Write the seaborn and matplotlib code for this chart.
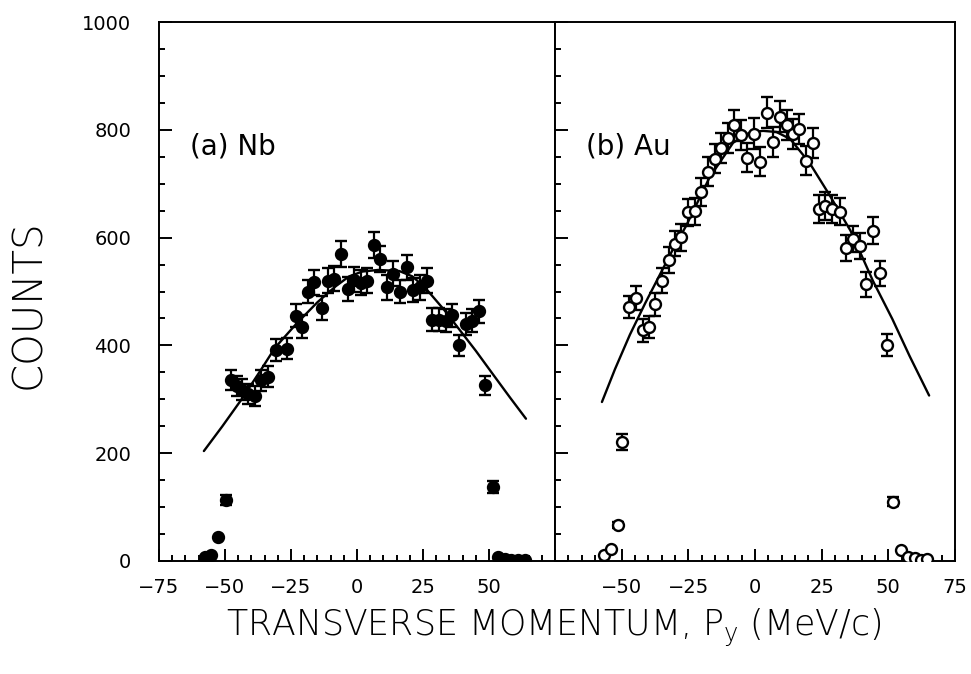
import numpy as np
import pandas as pd
import matplotlib
matplotlib.use("Agg")
import matplotlib.pyplot as plt
import seaborn as sns
from matplotlib.ticker import MultipleLocator, FixedLocator

# ---------------- data ----------------
nb_x = [-57.7, -55.3, -52.5, -49.8, -47.8, -45.6, -43.5, -41.2, -38.8, -36.5,
        -33.8, -30.5, -26.5, -23.0, -21.0, -18.5, -16.2, -13.3, -11.0, -8.7,
        -6.0, -3.5, -1.0, 1.5, 3.8, 6.3, 8.8, 11.3, 13.8, 16.3,
        18.9, 21.4, 23.9, 26.4, 28.5, 31.0, 33.6, 36.0, 38.6, 41.1,
        43.6, 46.1, 48.6, 51.4, 53.5, 56.0, 58.5, 61.0, 63.5]
nb_y = [8, 12, 44, 113, 336, 325, 318, 310, 306, 335,
        342, 391, 394, 455, 435, 500, 517, 470, 520, 524,
        570, 505, 522, 516, 520, 587, 560, 508, 533, 500,
        545, 503, 508, 520, 448, 448, 446, 456, 400, 440,
        446, 463, 326, 138, 8, 3, 1, 1, 1]
nb_err = [0, 0, 0, 10, 19, 19, 19, 18, 18, 19,
          19, 20, 20, 21, 21, 22, 23, 22, 23, 23,
          24, 22, 23, 23, 23, 24, 24, 23, 23, 22,
          23, 22, 23, 23, 21, 21, 21, 21, 20, 21,
          21, 21, 18, 11, 0, 0, 0, 0, 0]

nb_fit_x = [-58, -51, -44, -37, -31, -23, -15, -8, -3, 2, 8, 16, 21, 26, 33, 39, 45, 52, 58, 64]
nb_fit_y = [204, 250, 298, 350, 396, 440, 480, 510, 528, 537, 540, 538, 528, 506, 466, 428, 390, 343, 303, 264]

au_x = [-56.6, -54.0, -51.5, -49.8, -47.1, -44.7, -42.0, -39.7, -37.4, -34.7,
        -32.4, -30.1, -27.6, -25.0, -22.6, -20.1, -17.7, -15.1, -12.7, -10.2,
        -7.9, -5.2, -2.9, -0.5, 2.0, 4.4, 6.9, 9.4, 11.9, 14.4,
        16.6, 19.1, 21.6, 24.1, 26.4, 28.9, 31.7, 34.2, 36.7, 39.5,
        41.7, 44.2, 46.8, 49.6, 51.8, 54.6, 57.4, 60.0, 62.2, 64.4]
au_y = [11, 23, 67, 221, 471, 488, 428, 434, 476, 520,
        559, 589, 601, 647, 649, 684, 722, 746, 766, 785,
        808, 790, 748, 793, 741, 832, 778, 824, 809, 792,
        801, 743, 775, 653, 659, 653, 648, 580, 598, 584,
        513, 613, 534, 401, 110, 20, 8, 5, 2, 3]
au_err = [0, 0, 6, 15, 21, 22, 21, 21, 22, 23,
          24, 24, 25, 25, 25, 26, 27, 27, 28, 28,
          28, 28, 27, 28, 27, 29, 28, 29, 28, 28,
          28, 27, 28, 26, 26, 26, 25, 24, 24, 24,
          23, 25, 23, 20, 8, 0, 0, 0, 0, 0]

au_fit_x = [-57.4, -52.5, -46.9, -41.2, -35.8, -30.8, -25.8, -17.0, -8.2, -2.0, 3.0, 8.0, 13.2, 20.4, 27.7, 35.8, 44.2, 51.5, 58.0, 65.3]
au_fit_y = [295, 356, 420, 478, 530, 578, 622, 712, 776, 795, 798, 796, 783, 739, 681, 613, 520, 449, 380, 307]

x_ticks = [-75, -50, -25, 0, 25, 50, 75]
left_labels = ["\u221275", "\u221250", "\u221225", "0", "25", "50", ""]
right_labels = ["", "\u221250", "\u221225", "0", "25", "50", "75"]
y_ticks = [0, 200, 400, 600, 800, 1000]

# ---------------- figure ----------------
sns.set_theme(style="ticks")
plt.rcParams['font.family'] = ['DejaVu Sans']
plt.rcParams['axes.linewidth'] = 1.4
for k in ["text.color", "xtick.color", "ytick.color", "axes.labelcolor", "axes.edgecolor"]:
    plt.rcParams[k] = "black"

W, H = 971, 674
fig = plt.figure(figsize=(W / 100, H / 100), dpi=100)
L, Bt, Tp = 159 / W, 1 - 561 / H, 1 - 22 / H
M, R = 555 / W, 955 / W
ax1 = fig.add_axes([L, Bt, M - L, Tp - Bt])
ax2 = fig.add_axes([M, Bt, R - M, Tp - Bt])

nb = pd.DataFrame({"x": nb_x, "y": nb_y, "err": nb_err})
au = pd.DataFrame({"x": au_x, "y": au_y, "err": au_err})
nbf = pd.DataFrame({"x": nb_fit_x, "y": nb_fit_y})
auf = pd.DataFrame({"x": au_fit_x, "y": au_fit_y})

for ax, df, fit, filled, labels, title in [
        (ax1, nb, nbf, True, left_labels, "(a) Nb"),
        (ax2, au, auf, False, right_labels, "(b) Au")]:
    sns.lineplot(data=fit, x="x", y="y", ax=ax, color="black", lw=1.7,
                 sort=False, estimator=None, zorder=2)
    e = df[df["err"] > 0]
    ax.errorbar(e["x"], e["y"], yerr=e["err"], fmt="none", ecolor="black",
                elinewidth=1.6, capsize=4.6, capthick=1.7, zorder=3)
    sns.scatterplot(data=df, x="x", y="y", ax=ax, s=62, marker="o",
                    color="black" if filled else "white",
                    edgecolor="black", linewidth=1.7, zorder=4)
    ax.set_xlim(-75, 75)
    ax.set_ylim(0, 1000)
    ax.xaxis.set_major_locator(FixedLocator(x_ticks))
    ax.set_xticklabels(labels)
    ax.xaxis.set_minor_locator(MultipleLocator(5))
    ax.yaxis.set_major_locator(FixedLocator(y_ticks))
    ax.yaxis.set_minor_locator(MultipleLocator(50))
    ax.tick_params(which="both", direction="in", top=False, right=False,
                   colors="black", labelcolor="black", width=1.4)
    ax.tick_params(which="major", length=9)
    ax.tick_params(which="minor", length=4.5)
    ax.tick_params(axis="x", which="major", pad=12, labelsize=14)
    ax.tick_params(axis="y", which="major", pad=20, labelsize=14)
    ax.set_xlabel("")
    ax.set_ylabel("")
    for s in ax.spines.values():
        s.set_visible(True)
        s.set_color("black")
        s.set_linewidth(1.4)
    ax.text(-63.3, 755, title, fontsize=20, ha="left", va="baseline", color="black")

ax2.tick_params(axis="y", labelleft=False)

fig.text(29 / W, 1 - 304 / H, "COUNTS", rotation=90, ha="center", va="center",
         fontsize=29, fontweight="light", color="black")
fig.text(554 / W, 1 - 636 / H, r"TRANSVERSE MOMENTUM, $\mathregular{P_y}$ (MeV/c)",
         ha="center", va="baseline", fontsize=25, fontweight="light", color="black")

fig.savefig("out.png", dpi=100, facecolor="white")
